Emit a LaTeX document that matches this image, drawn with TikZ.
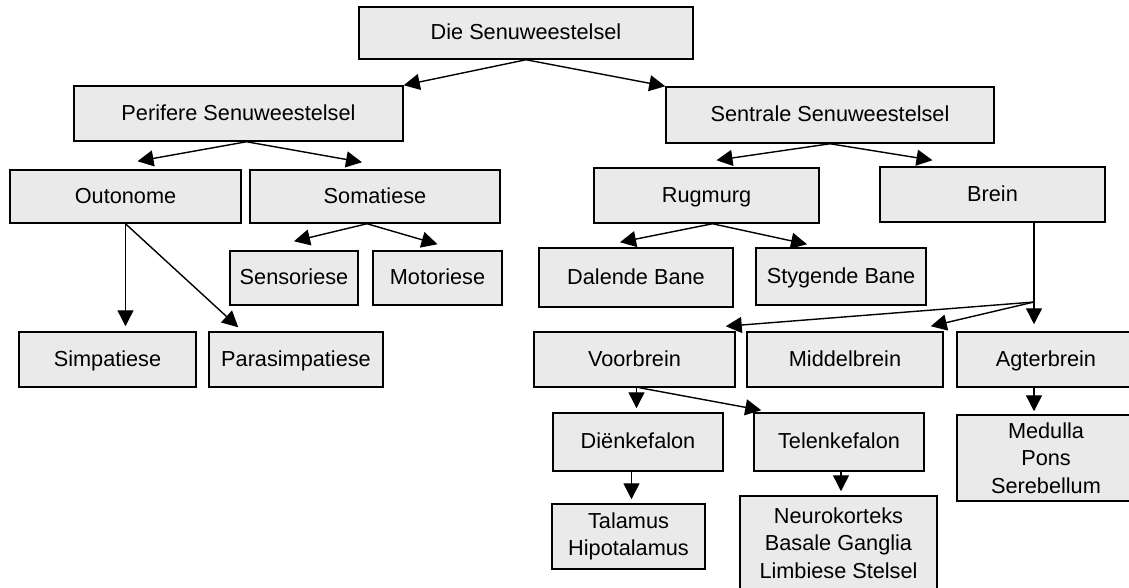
\documentclass[tikz,border=0pt]{standalone}
\usepackage{fontspec}
\setmainfont{Liberation Sans}
\usetikzlibrary{arrows.meta,calc}
\definecolor{boxgray}{RGB}{234,234,234}
\tikzset{
  box/.style={draw, fill=boxgray, line width=1.5pt, inner sep=0pt, align=center,
    font=\fontsize{21.7}{27.5}\selectfont},
  one/.style={box, text height=15.5pt, text depth=2pt},
  arr/.style={line width=1.4pt, -{Triangle[length=16pt,width=16pt]}}
}
\begin{document}
\begin{tikzpicture}[x=1pt,y=-1pt]
\useasboundingbox (0,0) rectangle (1129,587);
\node[one, minimum width=334, minimum height=52] (die) at (526,33) {Die Senuweestelsel};
\node[one, minimum width=329, minimum height=55] (per) at (238.5,113.5) {Perifere Senuweestelsel};
\node[one, minimum width=328, minimum height=56] (sen) at (830,115) {Sentrale Senuweestelsel};
\node[one, minimum width=231, minimum height=53] (out) at (125.5,196.5) {Outonome};
\node[one, minimum width=250, minimum height=53] (som) at (375,196.5) {Somatiese};
\node[one, minimum width=128, minimum height=54] (sens) at (294,278) {Sensoriese};
\node[one, minimum width=129, minimum height=54] (mot) at (437.5,278) {Motoriese};
\node[one, minimum width=177, minimum height=55] (simp) at (107.5,359.5) {Simpatiese};
\node[one, minimum width=174, minimum height=55] (para) at (296,359.5) {Parasimpatiese};
\node[one, minimum width=225, minimum height=55] (rug) at (706.5,195.5) {Rugmurg};
\node[one, minimum width=225, minimum height=55] (brein) at (992.5,194.5) {Brein};
\node[one, minimum width=194, minimum height=59] (dal) at (636,277.5) {Dalende Bane};
\node[one, minimum width=170, minimum height=57] (styg) at (841,276.5) {Stygende Bane};
\node[one, minimum width=201, minimum height=55] (voor) at (634.5,359.5) {Voorbrein};
\node[one, minimum width=196, minimum height=55] (mid) at (845,359.5) {Middelbrein};
\node[one, minimum width=178, minimum height=55] (agt) at (1046,359.5) {Agterbrein};
\node[one, minimum width=170, minimum height=58] (dien) at (638,442) {Diënkefalon};
\node[one, minimum width=170, minimum height=58] (tele) at (839,442) {Telenkefalon};
\node[box, minimum width=153, minimum height=65] (tal) at (628.5,536.5) {Talamus\\Hipotalamus};
\node[box, minimum width=197, minimum height=94] (neuro) at (838.5,543) {Neurokorteks\\Basale Ganglia\\Limbiese Stelsel};
\node[box, minimum width=178, minimum height=86] (med) at (1046,458) {Medulla\\Pons\\Serebellum};
\draw[arr] (die.south) -- (per.north east);
\draw[arr] (die.south) -- (sen.north west);
\draw[arr] ([xshift=8pt]per.south) -- ([xshift=12pt,yshift=8pt]out.north);
\draw[arr] ([xshift=8pt]per.south) -- ([xshift=-13pt,yshift=7pt]som.north);
\draw[arr] (sen.south) -- ([xshift=10pt,yshift=7pt]rug.north);
\draw[arr] (sen.south) -- ([xshift=-60pt,yshift=6pt]brein.north);
\draw[arr] ([xshift=-8pt]som.south) -- ([yshift=9pt]sens.north);
\draw[arr] ([xshift=-8pt]som.south) -- ([yshift=6pt]mot.north);
\draw[arr] (out.south) -- ($(out.south |- simp.north)+(0,-5)$);
\draw[arr] (out.south) -- ([xshift=30pt,yshift=4pt]para.north west);
\draw[arr] ([xshift=6pt]rug.south) -- ([xshift=-16pt,yshift=5pt]dal.north);
\draw[arr] ([xshift=6pt]rug.south) -- ([xshift=-34pt,yshift=3pt]styg.north);
\coordinate (J) at (1034,302);
\draw[line width=1.4pt] (J |- brein.south) -- (J);
\draw[arr] (J) -- ([xshift=-10pt,yshift=5pt]voor.north east);
\draw[arr] (J) -- ([xshift=-13pt,yshift=5pt]mid.north east);
\draw[arr] (J) -- ($(J |- agt.north)+(0,-7)$);
\draw[arr] ([xshift=2pt]voor.south) -- ($(voor.south |- dien.north)+(2,-4)$);
\draw[arr] ([xshift=5pt]voor.south) -- ([xshift=8pt,yshift=2pt]tele.north west);
\draw[arr] ($(tal.north |- dien.south)+(3,0)$) -- ($(tal.north)+(3,-4)$);
\draw[arr] ([xshift=2pt]tele.south) -- ($(tele.south |- neuro.north)+(2,-4)$);
\draw[arr] (J |- agt.south) -- ($(J |- med.north)+(0,-3)$);
\end{tikzpicture}
\end{document}
